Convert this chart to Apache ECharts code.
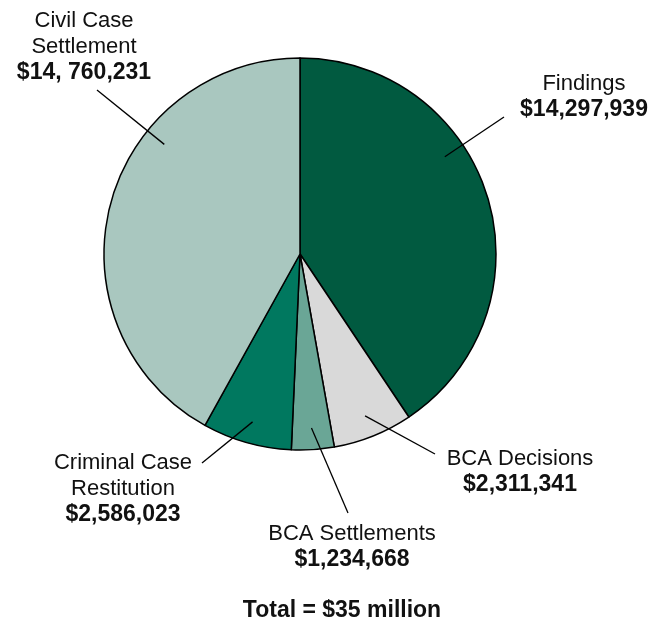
<!DOCTYPE html>
<html>
<head>
<meta charset="utf-8">
<script src="https://cdn.jsdelivr.net/npm/echarts@6/dist/echarts.min.js"></script>
<style>
  html, body { margin: 0; padding: 0; background: #fff; }
  #chart { width: 660px; height: 617px; }
</style>
</head>
<body>
<div id="chart"></div>
<script>
// ---- data ----
const categories = ['Findings', 'BCA Decisions', 'BCA Settlements', 'Criminal Case\nRestitution', 'Civil Case\nSettlement'];
const amounts = [14297939, 2311341, 1234668, 2586023, 14760231];
const amountLabels = ['$14,297,939', '$2,311,341', '$1,234,668', '$2,586,023', '$14, 760,231'];
const totalLabel = 'Total = $35 million';

// ---- style / layout ----
const colors = ['#015a40', '#d9d9d9', '#6aa696', '#00785f', '#a9c7bf'];
const CX = 300, CY = 254, R = 196;
const LINE_H = 26;
// label block: centre x, first-line centre y, leader-line end point
const labelBoxes = [
  { x: 584, y: 84,  end: [504, 117] },
  { x: 520, y: 459, end: [435, 454] },
  { x: 352, y: 534, end: [348, 513] },
  { x: 123, y: 463, end: [202, 463] },
  { x: 84,  y: 21,  end: [97, 90] }
];

// slice angles (degrees, clockwise from 12 o'clock)
const total = amounts.reduce((a, b) => a + b, 0);
const sliceAngles = [];
let acc = 0;
amounts.forEach(v => {
  const span = v / total * 360;
  sliceAngles.push({ start: acc, end: acc + span, span: span });
  acc += span;
});

function leaderStart(i) {
  const s = sliceAngles[i];
  let ang;
  if (s.span > 90) {
    const e = labelBoxes[i].end;
    ang = Math.atan2(e[0] - CX, -(e[1] - CY));
  } else {
    ang = (s.start + s.span / 2) * Math.PI / 180;
  }
  const d = R * 0.89;
  return [CX + d * Math.sin(ang), CY - d * Math.cos(ang)];
}

const mainData = categories.map((c, i) => ({
  name: c,
  value: amounts[i],
  itemStyle: { color: colors[i] }
}));
const labelData = categories.map((c, i) => ({ name: c, value: amounts[i] }));

const chart = echarts.init(document.getElementById('chart'), null, { renderer: 'canvas' });
chart.setOption({
  backgroundColor: '#ffffff',
  animation: false,
  title: {
    text: totalLabel,
    left: 337,
    top: 594,
    textAlign: 'center',
    textStyle: { fontFamily: 'Liberation Sans', fontSize: 23, fontWeight: 'bold', color: '#111' }
  },
  series: [{
    type: 'pie',
    z: 1,
    center: [CX, CY],
    radius: R,
    startAngle: 90,
    clockwise: true,
    silent: true,
    data: mainData,
    itemStyle: { borderColor: '#000', borderWidth: 1.5 },
    label: { show: false },
    labelLine: { show: false }
  }, {
    // transparent overlay carrying the labels and leader lines (drawn above the slices)
    type: 'pie',
    z: 10,
    center: [CX, CY],
    radius: R,
    startAngle: 90,
    clockwise: true,
    avoidLabelOverlap: false,
    silent: true,
    data: labelData,
    itemStyle: { color: 'rgba(0,0,0,0)', borderWidth: 0 },
    label: {
      show: true,
      position: 'outside',
      formatter: function (p) {
        const lines = p.name.split('\n').map(t => '{n|' + t + '}');
        lines.push('{v|' + amountLabels[p.dataIndex] + '}');
        return lines.join('\n');
      },
      rich: {
        n: { fontFamily: 'Liberation Sans', fontSize: 22, color: '#111', lineHeight: LINE_H, align: 'center' },
        v: { fontFamily: 'Liberation Sans', fontSize: 23, fontWeight: 'bold', color: '#111', lineHeight: LINE_H, align: 'center' }
      }
    },
    labelLine: {
      show: true,
      showAbove: true,
      lineStyle: { color: '#000', width: 1.3 }
    },
    labelLayout: function (params) {
      const i = params.dataIndex;
      const b = labelBoxes[i];
      const st = leaderStart(i);
      return {
        x: b.x,
        y: b.y - LINE_H / 2,
        align: 'center',
        verticalAlign: 'top',
        labelLinePoints: [st, b.end, b.end]
      };
    }
  }]
});
</script>
</body>
</html>
